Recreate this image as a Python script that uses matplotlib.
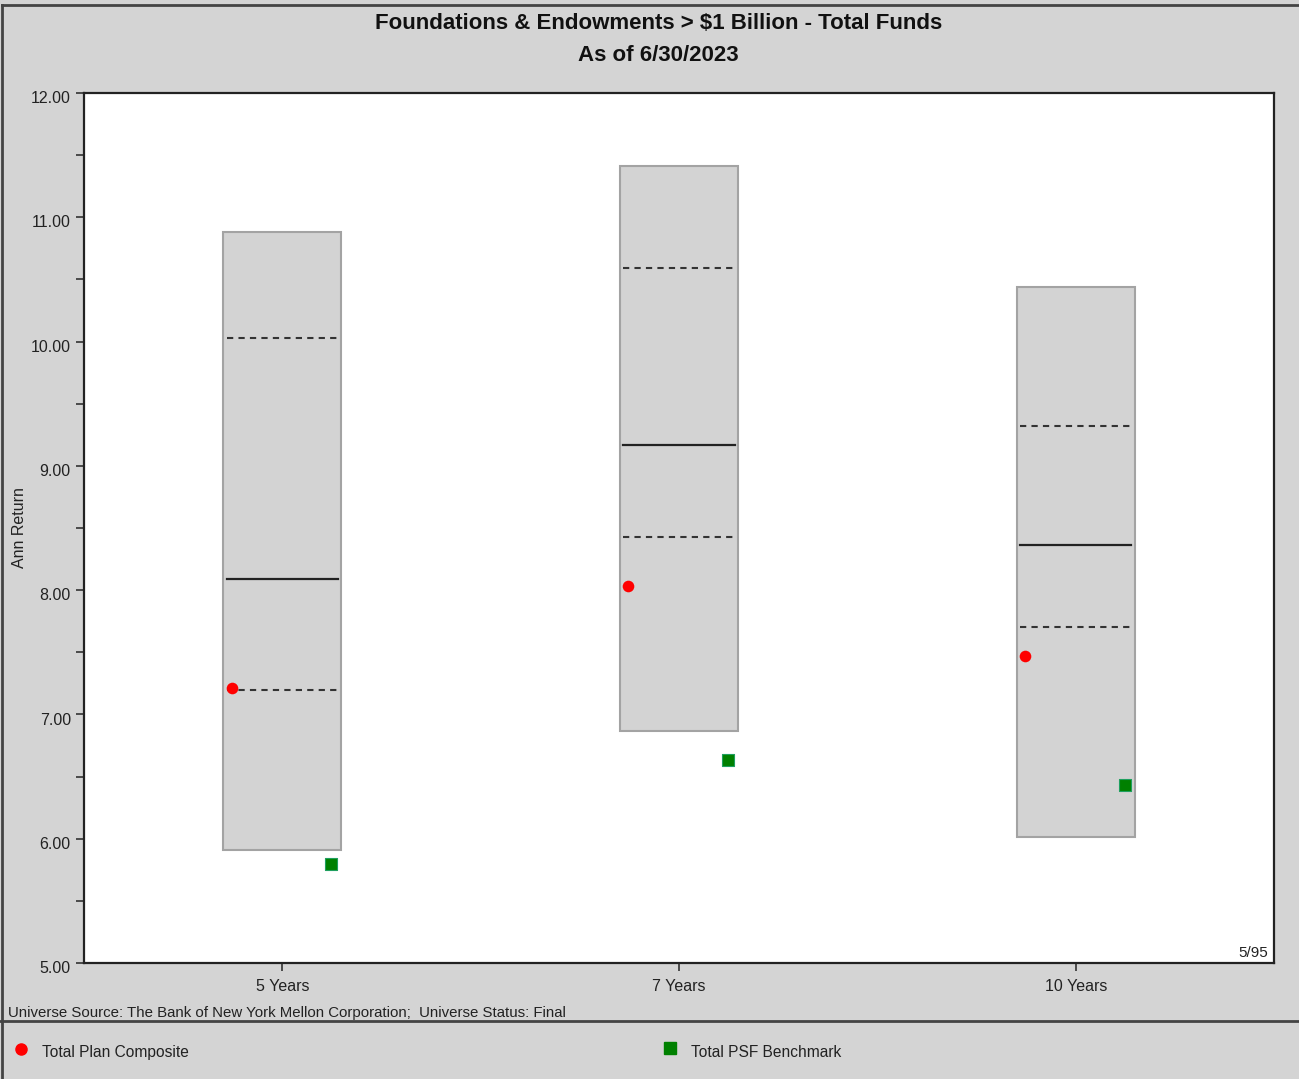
import matplotlib.pyplot as plt
import matplotlib.transforms as mtransforms
from matplotlib.lines import Line2D
from matplotlib.patches import Rectangle

plt.rcParams['font.family'] = ['Liberation Sans', 'DejaVu Sans']

# universe ranges per period (5th / 25th / median / 75th / 95th percentile)
periods = ["5 Years", "7 Years", "10 Years"]
p95 = [10.88, 11.41, 10.44]
p75 = [10.03, 10.59, 9.32]
p50 = [8.09, 9.17, 8.36]
p25 = [7.20, 8.43, 7.70]
p05 = [5.91, 6.87, 6.01]
plan_composite = [7.21, 8.03, 7.47]
psf_benchmark = [5.80, 6.63, 6.43]

BG = "#d4d4d4"
BOX_FACE = "#d3d3d3"
BOX_EDGE = "#a3a3a3"

fig = plt.figure(figsize=(12.99, 10.79), dpi=100, facecolor=BG)
ax = fig.add_axes([0.0647, 0.1075, 0.9161, 0.8063])
ax.set_facecolor("white")

box_w = 0.297
for i in range(len(periods)):
    ax.add_patch(Rectangle((i - box_w / 2, p05[i]), box_w, p95[i] - p05[i],
                           facecolor=BOX_FACE, edgecolor=BOX_EDGE, linewidth=1.5, zorder=2))
    x0, x1 = i - box_w / 2 + 0.008, i + box_w / 2 - 0.008
    ax.plot([x0, x1], [p50[i], p50[i]], color="#222222", lw=1.6, zorder=3)
    for v in (p75[i], p25[i]):
        ax.plot([x0, x1], [v, v], color="#333333", lw=1.5, ls=(0, (3, 2.5)), zorder=3)

xs = range(len(periods))
ax.scatter([x - 0.128 for x in xs], plan_composite, marker="o", s=70, color="#ff0000",
           zorder=5, linewidths=0)
ax.scatter([x + 0.123 for x in xs], psf_benchmark, marker="s", s=70, color="#008000",
           edgecolors="#1f9f5f", linewidths=0.8, zorder=5)

ax.set_xlim(-0.5, 2.5)
ax.set_ylim(5, 12)
ax.set_xticks(list(xs))
ax.set_xticklabels(periods, fontsize=11.5, color="#222222")
ax.set_yticks([5, 6, 7, 8, 9, 10, 11, 12])
ax.set_yticklabels([f"{v:.2f}" for v in range(5, 13)], fontsize=11.5, color="#222222")
ax.set_yticks([5.5, 6.5, 7.5, 8.5, 9.5, 10.5, 11.5], minor=True)
ax.tick_params(axis="y", which="major", length=5.5, width=1.2, pad=4, color="#333333")
ax.tick_params(axis="y", which="minor", length=5.5, width=1.2, color="#333333")
ax.tick_params(axis="x", length=5.5, width=1.2, pad=6, color="#333333")
shift = mtransforms.ScaledTranslation(0, -3 / 72, fig.dpi_scale_trans)
for lbl in ax.get_yticklabels():
    lbl.set_transform(lbl.get_transform() + shift)
for sp in ax.spines.values():
    sp.set_linewidth(1.6)
    sp.set_color("#222222")
ax.set_ylabel("Ann Return", fontsize=11.5, color="#222222")
ax.yaxis.set_label_coords(-0.048, 0.5)

ax.text(0.995, 0.004, "5/95", transform=ax.transAxes, ha="right", va="bottom",
        fontsize=11, color="#222222")

fig.text(0.507, 0.978, "Foundations & Endowments > $1 Billion - Total Funds",
         ha="center", va="center", fontsize=16, fontweight="bold", color="#111111")
fig.text(0.507, 0.949, "As of 6/30/2023",
         ha="center", va="center", fontsize=16, fontweight="bold", color="#111111")

fig.text(0.006, 0.061, "Universe Source: The Bank of New York Mellon Corporation;  Universe Status: Final",
         ha="left", va="center", fontsize=10.8, color="#222222")

# frame lines around the chart and above the legend strip
fig.add_artist(Line2D([0, 1], [0.0535, 0.0535], transform=fig.transFigure, color="#444444", lw=2))
fig.add_artist(Line2D([0.0018, 0.0018], [0, 0.9955], transform=fig.transFigure, color="#444444", lw=2))
fig.add_artist(Line2D([0.0018, 1], [0.9955, 0.9955], transform=fig.transFigure, color="#444444", lw=2))

fig.add_artist(Line2D([0.016], [0.028], transform=fig.transFigure, marker="o",
                      markersize=8, color="#ff0000", ls="none"))
fig.text(0.032, 0.025, "Total Plan Composite", ha="left", va="center", fontsize=11.2, color="#222222")
fig.add_artist(Line2D([0.516], [0.0285], transform=fig.transFigure, marker="s",
                      markersize=8, color="#008000", ls="none"))
fig.text(0.532, 0.025, "Total PSF Benchmark", ha="left", va="center", fontsize=11.2, color="#222222")

fig.savefig("out.png", dpi=100, facecolor=BG)
